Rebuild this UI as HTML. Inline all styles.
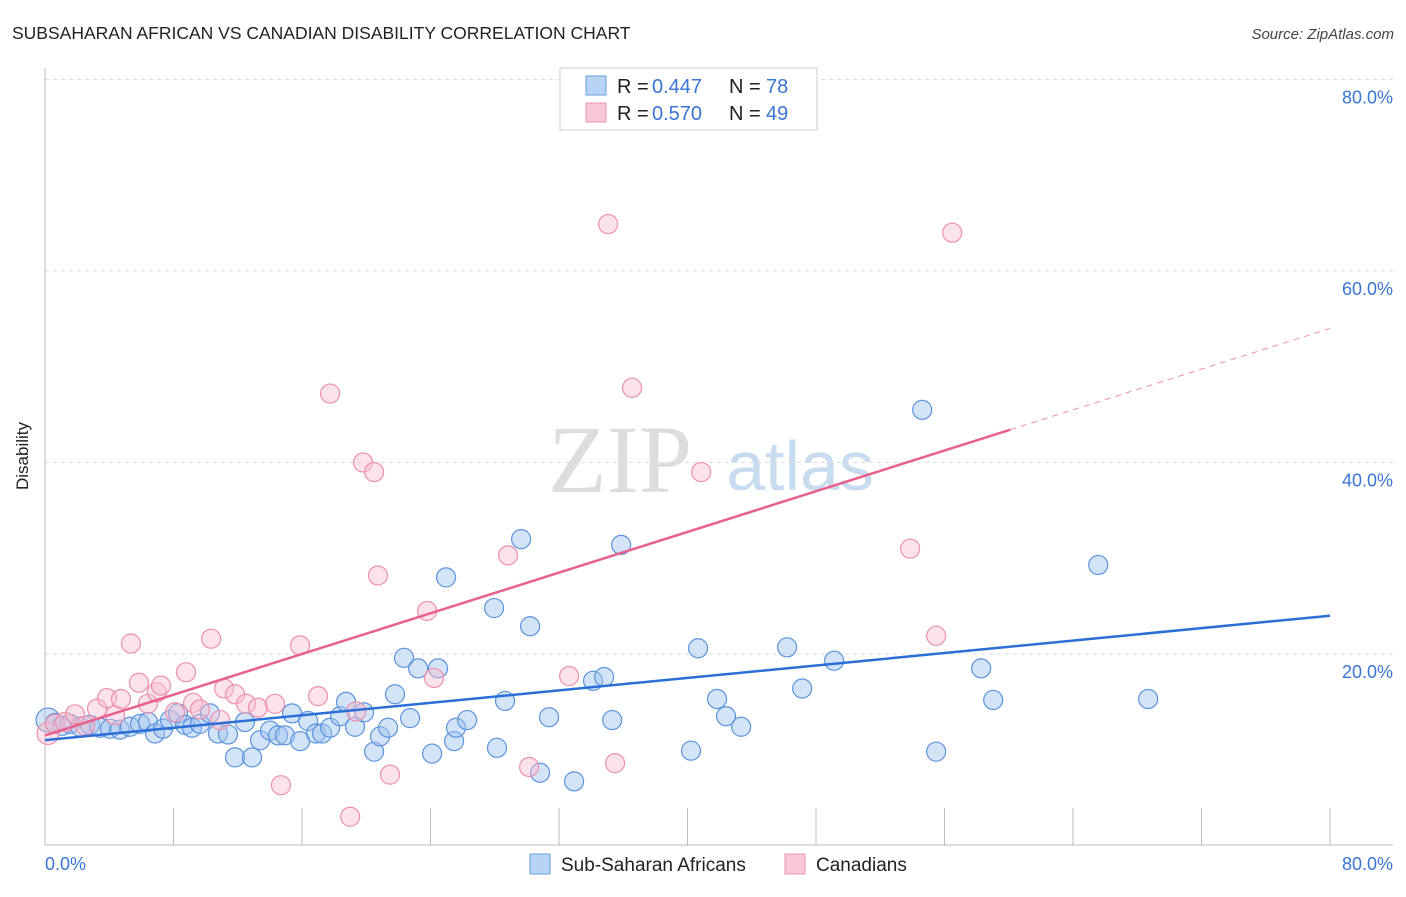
<!DOCTYPE html>
<html><head><meta charset="utf-8"><style>
body{margin:0;background:#fff;font-family:"Liberation Sans",sans-serif}
</style></head><body>
<svg width="1406" height="892" xmlns="http://www.w3.org/2000/svg" id="svg">
<text x="12" y="39" font-size="17.5" fill="#222">SUBSAHARAN AFRICAN VS CANADIAN DISABILITY CORRELATION CHART</text>
<text x="1394" y="39" font-size="15" fill="#444" text-anchor="end" font-style="italic">Source: ZipAtlas.com</text>
<text x="28" y="456" font-size="17" fill="#222" text-anchor="middle" transform="rotate(-90 28 456)">Disability</text>
<text x="620" y="492" font-size="96" fill="#ddd" font-family="Liberation Serif,serif" text-anchor="middle">ZIP</text>
<text x="800" y="490" font-size="70" fill="#c8dcf0" text-anchor="middle">atlas</text>
<g id="grid"></g><g id="pts"></g><g id="lines"></g>
<g>
<rect x="560" y="68" width="257" height="62" fill="#fff" stroke="#ccc"/>
<rect x="586" y="76" width="20" height="19" fill="#b8d4f5" stroke="#6a9de0"/>
<rect x="586" y="103" width="20" height="19" fill="#f9c8d8" stroke="#ec93b0"/>
<g font-size="20">
<text x="617" y="93" fill="#222">R =</text><text x="652" y="93" fill="#3a74d4">0.447</text>
<text x="729" y="93" fill="#222">N =</text><text x="766" y="93" fill="#3a74d4">78</text></g>
<g font-size="20">
<text x="617" y="120" fill="#222">R =</text><text x="652" y="120" fill="#3a74d4">0.570</text>
<text x="729" y="120" fill="#222">N =</text><text x="766" y="120" fill="#3a74d4">49</text></g>
</g>
<rect x="530" y="854" width="20" height="20" fill="#b8d4f5" stroke="#6a9de0"/>
<text x="561" y="871" font-size="19" fill="#222">Sub-Saharan Africans</text>
<rect x="785" y="854" width="20" height="20" fill="#f9c8d8" stroke="#ec93b0"/>
<text x="816" y="871" font-size="19" fill="#222">Canadians</text>
</svg>
<script>
const yTicks=[20,40,60,80];
const xTickLabels=["0.0%","80.0%"];
const blueX=[0.19,0.62,1.06,1.56,2.18,2.8,3.43,4.05,4.67,5.29,5.92,6.41,6.85,7.35,7.78,8.28,8.72,9.15,9.65,10.27,10.77,11.39,11.83,12.45,12.89,13.39,14.01,14.51,14.94,15.38,15.88,16.38,16.87,17.25,17.75,18.37,18.74,19.3,19.86,20.49,20.86,21.36,21.79,22.35,22.73,23.23,24.1,24.47,24.97,25.47,25.59,26.28,27.96,28.14,28.64,29.64,30.2,30.82,31.38,32.94,34.12,34.81,35.31,35.87,40.22,40.66,41.84,42.4,43.34,46.2,47.14,49.13,54.61,55.48,58.28,59.03,65.57,68.68];
const blueY=[13.1,12.8,12.5,12.7,12.4,12.6,12.3,12.2,12.1,12.4,12.7,12.9,11.7,12.2,13.1,13.8,12.6,12.3,12.7,13.8,11.7,11.6,9.2,12.9,9.2,11.0,12.0,11.5,11.5,13.8,10.9,13.0,11.7,11.7,12.3,13.5,15.0,12.4,13.9,9.8,11.4,12.3,15.8,19.6,13.3,18.5,9.6,18.5,28.0,10.9,12.3,13.1,24.8,10.2,15.1,32.0,22.9,7.6,13.4,6.7,17.2,17.6,13.1,31.4,9.9,20.6,15.3,13.5,12.4,20.7,16.4,19.3,45.5,9.8,18.5,15.2,29.3,15.3];
const pinkX=[0.19,0.62,1.25,1.87,2.49,3.24,3.86,4.36,4.73,5.35,5.85,6.41,6.97,7.22,8.09,8.78,9.22,9.65,10.34,10.9,11.15,11.83,12.52,13.26,14.32,14.69,15.88,17.0,17.75,19.0,19.37,19.8,20.49,20.73,21.48,23.79,24.22,28.83,30.14,32.63,35.06,35.49,36.55,40.85,53.86,55.48,56.48];
const pinkY=[11.7,12.7,12.9,13.7,12.5,14.3,15.4,13.6,15.3,21.1,17.0,14.8,16.0,16.7,13.9,18.1,14.9,14.2,21.6,13.1,16.4,15.8,14.8,14.4,14.8,6.3,20.9,15.6,47.2,3.0,14.0,40.0,39.0,28.2,7.4,24.5,17.5,30.3,8.2,17.7,64.9,8.6,47.8,39.0,31.0,21.9,64.0];
const blueTrend=[11.0,24.0];
const pinkTrend=[11.5,54.0];
const pinkSolidEnd=60.1;
const X=v=>45+v*1285/80, Y=v=>845.5-v*9.575;
const NS="http://www.w3.org/2000/svg";
function mk(t,a,p){const e=document.createElementNS(NS,t);for(const k in a)e.setAttribute(k,a[k]);p.appendChild(e);return e;}
const grid=document.getElementById('grid');
yTicks.forEach(t=>{
 const l=mk('line',{x1:45,x2:1393,y1:Y(t),y2:Y(t),stroke:'#ddd','stroke-dasharray':'4,4'},grid);
 
 
 const tx=mk('text',{x:1393,y:Y(t)+24,'font-size':18,fill:'#3a74d4','text-anchor':'end'},grid);tx.textContent=t+'.0%';
 
 
});
const ax=mk('line',{x1:45,x2:45,y1:68,y2:845,stroke:'#bbb'},grid);


const bx=mk('line',{x1:45,x2:1393,y1:845,y2:845,stroke:'#bbb'},grid);


for(let i=0;i<=10;i++){const l=mk('line',{x1:X(i*8),x2:X(i*8),y1:808,y2:845,stroke:'#bbb'},grid);
 
 }
[[0,'start',45],[1,'end',1393]].forEach(([i,a,x])=>{const t=mk('text',{x:x,y:870,'font-size':18,fill:'#3a74d4','text-anchor':a},grid);t.textContent=xTickLabels[i];
 
 });
const pts=document.getElementById('pts');
blueX.forEach((v,i)=>{const c=mk('circle',{cx:X(v),cy:Y(blueY[i]),r:i==0?12:9.5,fill:'rgba(160,196,240,0.45)',stroke:'#5b93dc','stroke-width':1.2},pts);
 
 });
pinkX.forEach((v,i)=>{const c=mk('circle',{cx:X(v),cy:Y(pinkY[i]),r:i==0?11:9.5,fill:'rgba(248,190,208,0.45)',stroke:'#ec90ae','stroke-width':1.2},pts);
 
 });
const lines=document.getElementById('lines');
const bl=mk('line',{x1:X(0),y1:Y(blueTrend[0]),x2:X(80),y2:Y(blueTrend[1]),stroke:'#2a6fd6','stroke-width':2.5},lines);


const pAt=v=>pinkTrend[0]+(pinkTrend[1]-pinkTrend[0])*v/80;
const pl=mk('line',{x1:X(0),y1:Y(pAt(0)),x2:X(pinkSolidEnd),y2:Y(pAt(pinkSolidEnd)),stroke:'#e8608c','stroke-width':2.5},lines);


const pd=mk('line',{x1:X(pinkSolidEnd),y1:Y(pAt(pinkSolidEnd)),x2:X(80),y2:Y(pAt(80)),stroke:'#ec90ae','stroke-width':1,'stroke-dasharray':'6,5'},lines);


</script>
</body></html>
